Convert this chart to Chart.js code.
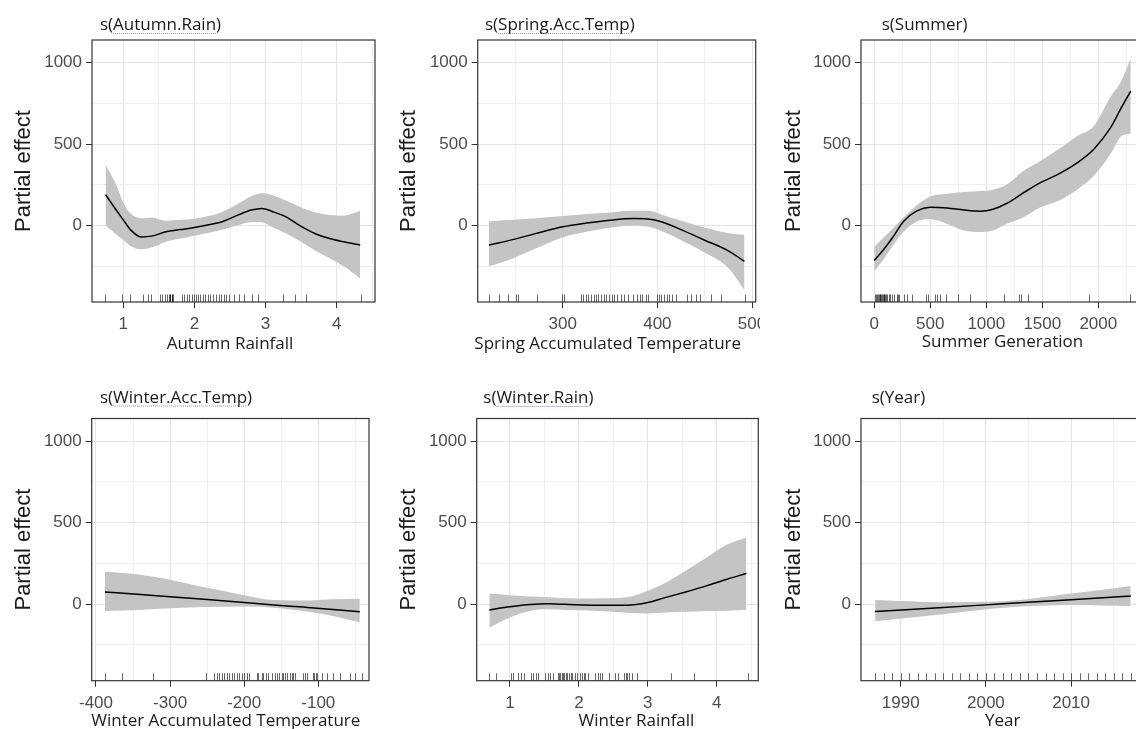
<!DOCTYPE html>
<html><head><meta charset="utf-8">
<script src="https://cdn.jsdelivr.net/npm/chart.js@4.4.1/dist/chart.umd.min.js"></script>
<style>
html,body{margin:0;padding:0;width:1136px;height:729px;overflow:hidden;background:#fff;position:relative;}
canvas{position:absolute;background:#fff;}
</style></head><body>
<canvas id="c1"></canvas><canvas id="c2"></canvas><canvas id="c3"></canvas>
<canvas id="c4"></canvas><canvas id="c5"></canvas><canvas id="c6"></canvas>
<script>
// ---------- DATA ----------
const panelTitles = ['s(Autumn.Rain)','s(Spring.Acc.Temp)','s(Summer)','s(Winter.Acc.Temp)','s(Winter.Rain)','s(Year)'];
const xTitles = ['Autumn Rainfall','Spring Accumulated Temperature','Summer Generation','Winter Accumulated Temperature','Winter Rainfall','Year'];
const yTitle = 'Partial effect';

const yMajor = [0,500,1000];
const yMinor = [-250,250,750];

const autumnX     = [0.75,0.9,1.0,1.1,1.25,1.4,1.6,1.8,2.0,2.2,2.4,2.6,2.8,2.95,3.1,3.3,3.5,3.7,3.9,4.1,4.33];
const autumnFit   = [190,95,35,-25,-70,-65,-38,-25,-12,5,25,62,95,105,85,50,-5,-50,-80,-100,-120];
const autumnUpper = [375,250,140,75,45,50,30,35,42,58,85,130,180,198,185,150,110,80,65,60,90];
const autumnLower = [0,-55,-88,-125,-145,-135,-100,-80,-62,-45,-25,0,22,20,-10,-50,-100,-155,-200,-250,-325];
const autumnRug   = [0.74,0.98,1.10,1.27,1.35,1.39,1.52,1.55,1.58,1.62,1.64,1.65,1.66,1.68,1.69,1.70,1.82,1.85,1.89,1.92,1.96,1.99,2.02,2.05,2.08,2.12,2.15,2.19,2.22,2.26,2.30,2.35,2.38,2.41,2.45,2.49,2.55,2.62,2.69,2.81,2.89,3.24,3.42,3.57,4.34];
const autumnMajor = [1,2,3,4];
const autumnMinor = [1.5,2.5,3.5,4.5];

const springX     = [222,248,272,300,325,350,375,390,405,425,450,475,492];
const springFit   = [-120,-85,-48,-8,15,33,43,40,22,-25,-90,-155,-220];
const springUpper = [25,35,45,58,70,80,90,90,65,30,-12,-47,-57];
const springLower = [-250,-200,-140,-72,-38,-14,0,-8,-35,-90,-165,-260,-395];
const springRug   = [221.8,232.3,242.1,250.9,252.6,273.0,298.9,301.1,319.3,321.8,324.6,327.0,329.8,332.6,335.1,337.5,340.4,343.2,345.6,349.1,351.6,354.4,357.2,361.4,364.9,369.1,374.7,378.9,381.8,384.2,387.7,390.2,399.3,401.8,404.2,407.0,409.8,412.3,415.8,419.3,430.9,435.1,440.4,444.9,456.8,466.7,493.0];
const springMajor = [300,400,500];
const springMinor = [250,350,450];

const summerX     = [0,80,170,260,380,500,650,800,950,1060,1180,1330,1480,1660,1810,1960,2110,2200,2290];
const summerFit   = [-215,-150,-67,25,90,112,107,95,88,100,135,200,262,321,384,468,600,715,825];
const summerUpper = [-130,-75,-15,50,125,178,195,205,212,220,250,335,395,475,548,610,790,880,1025];
const summerLower = [-280,-210,-120,-40,25,38,10,-30,-40,-30,10,50,110,157,220,305,440,545,565];
const summerRug   = [9,15,24,30,39,47,52,59,68,77,83,89,98,105,113,127,136,157,172,202,208,225,261,291,335,463,483,543,563,587,640,750,854,1156,1293,1313,1373,1921,2283];
const summerMajor = [0,500,1000,1500,2000];
const summerMinor = [250,750,1250,1750,2250];

const wtempX     = [-388,-340,-300,-250,-200,-160,-120,-80,-44];
const wtempFit   = [75,60,45,28,10,-5,-18,-32,-47];
const wtempUpper = [200,180,150,100,55,25,22,30,33];
const wtempLower = [-42,-35,-25,-18,-14,-22,-42,-72,-112];
const wtempRug   = [-387.9,-365.4,-322.6,-251.6,-240.8,-237.2,-233.6,-230.4,-227.3,-223.7,-220.1,-216.9,-213.8,-210.2,-206.6,-203.4,-200.3,-196.7,-193.1,-183.2,-180.9,-176.4,-174.2,-170.6,-167.4,-162.9,-158.4,-156.2,-152.6,-149.4,-147.2,-144.9,-142.7,-138.2,-135.9,-133.7,-131.4,-120.2,-117.9,-115.7,-107.6,-105.8,-103.1,-101.3,-95.5,-87.8,-79.7,-70.7,-57.2,-50.5,-41.5];
const wtempMajor = [-400,-300,-200,-100];
const wtempMinor = [-350,-250,-150,-50];

const wrainX     = [0.70,1.0,1.3,1.55,1.8,2.25,2.7,3.0,3.25,3.55,3.85,4.15,4.43];
const wrainFit   = [-35,-16,-2,2,-1,-6,-6,10,40,75,112,153,188];
const wrainUpper = [65,55,47,43,37,35,42,82,130,205,285,365,408];
const wrainLower = [-143,-82,-41,-31,-35,-40,-52,-57,-51,-47,-42,-40,-36];
const wrainRug   = [0.69,0.79,1.01,1.05,1.12,1.16,1.21,1.31,1.34,1.38,1.41,1.51,1.55,1.58,1.62,1.70,1.71,1.73,1.75,1.77,1.79,1.81,1.83,1.85,1.88,1.90,1.94,1.97,2.01,2.04,2.07,2.09,2.13,2.24,2.28,2.31,2.34,2.43,2.53,2.57,2.65,2.68,2.70,2.73,2.77,2.85,3.33,3.67,4.45];
const wrainMajor = [1,2,3,4];
const wrainMinor = [1.5,2.5,3.5,4.5];

const yearX     = [1987,1995,2002,2010,2017];
const yearFit   = [-45,-20,2,27,50];
const yearUpper = [25,12,18,65,112];
const yearLower = [-105,-62,-22,-5,-12];
const yearRug   = [1987,1988,1989,1990,1991,1992,1993,1994,1995,1996,1997,1998,1999,2000,2001,2002,2003,2004,2005,2006,2007,2008,2009,2010,2011,2012,2013,2014,2015,2016,2017];
const yearMajor = [1990,2000,2010];
const yearMinor = [1995,2005,2015];

// ---------- LAYOUT (pixels, styles) ----------
const panels = [
  {id:'c1', x:autumnX, fit:autumnFit, up:autumnUpper, lo:autumnLower, rug:autumnRug, major:autumnMajor, minor:autumnMinor,
   left:0, top:0, w:380, h:364, yW:92, padTop:40, padRight:5, xH:62, xMin:0.56, xMax:4.538, yTitleMid:24.4, tDx:8, tDy:-10, xtDx:-3.5, xtDy:46.5, ul:true},
  {id:'c2', x:springX, fit:springFit, up:springUpper, lo:springLower, rug:springRug, major:springMajor, minor:springMinor,
   left:380, top:0, w:380, h:364, yW:97.7, padTop:40, padRight:4.3, xH:62, xMin:210.1, xMax:503.9, yTitleMid:29.4, tDx:7.3, tDy:-10, xtDx:-9, xtDy:47, ul:true},
  {id:'c3', x:summerX, fit:summerFit, up:summerUpper, lo:summerLower, rug:summerRug, major:summerMajor, minor:summerMinor,
   left:760, top:0, w:400, h:364, yW:101, padTop:40, padRight:15, xH:62, xMin:-118.75, xMax:2417, yTitleMid:34.4, tDx:20.7, tDy:-10, xtDx:-0.5, xtDy:45, ul:false},
  {id:'c4', x:wtempX, fit:wtempFit, up:wtempUpper, lo:wtempLower, rug:wtempRug, major:wtempMajor, minor:wtempMinor,
   left:0, top:364, w:380, h:380, yW:91.7, padTop:54.5, padRight:11, xH:63.3, xMin:-405.8, xMax:-31.6, yTitleMid:24.4, tDx:8.3, tDy:-16, xtDx:-4.6, xtDy:45.3, ul:true},
  {id:'c5', x:wrainX, fit:wrainFit, up:wrainUpper, lo:wrainLower, rug:wrainRug, major:wrainMajor, minor:wrainMinor,
   left:380, top:364, w:380, h:380, yW:96.7, padTop:54.5, padRight:1.7, xH:63.3, xMin:0.517, xMax:4.604, yTitleMid:29.4, tDx:6.6, tDy:-15.5, xtDx:19, xtDy:45.3, ul:true},
  {id:'c6', x:yearX, fit:yearFit, up:yearUpper, lo:yearLower, rug:yearRug, major:yearMajor, minor:yearMinor,
   left:760, top:364, w:400, h:380, yW:101, padTop:54.5, padRight:16.5, xH:63.3, xMin:1985.34, xMax:2018.5, yTitleMid:34.4, tDx:10.7, tDy:-15.5, xtDx:0.5, xtDy:45.3, ul:false}
];

const TICK_FONT = {family:'"Liberation Sans", Arial, sans-serif', size:17};
const TEXT_FAMILY = '"Open Sans", sans-serif';
const RIBBON = 'rgb(196,196,196)';

const decor = {
  id: 'decor',
  afterDatasetsDraw(chart, args, o) {
    const {ctx, chartArea:a} = chart;
    const xs = chart.scales.x;
    ctx.save();
    ctx.beginPath(); ctx.rect(a.left, a.top, a.right - a.left, a.bottom - a.top); ctx.clip();
    ctx.strokeStyle = 'rgba(0,0,0,0.6)'; ctx.lineWidth = 1;
    ctx.beginPath();
    for (const v of o.rug) {
      const px = Math.round(xs.getPixelForValue(v)) + 0.5;
      ctx.moveTo(px, a.bottom); ctx.lineTo(px, a.bottom - 7.5);
    }
    ctx.stroke();
    ctx.restore();
  },
  afterDraw(chart, args, o) {
    const {ctx, chartArea:a} = chart;
    ctx.save();
    ctx.strokeStyle = '#333'; ctx.lineWidth = 1.2;
    ctx.strokeRect(a.left, a.top, a.right - a.left, a.bottom - a.top);
    ctx.fillStyle = '#1a1a1a';
    ctx.font = '17px ' + TEXT_FAMILY;
    ctx.textBaseline = 'alphabetic';
    ctx.textAlign = 'left';
    const tx = a.left + o.tDx, ty = a.top + o.tDy;
    ctx.fillText(o.title, tx, ty);
    if (o.ul) {
      const pre = ctx.measureText('s(').width;
      const w = ctx.measureText(o.title.slice(2, -1)).width;
      ctx.strokeStyle = '#8c8c9c'; ctx.lineWidth = 1; ctx.setLineDash([1, 1]);
      ctx.beginPath(); ctx.moveTo(tx + pre, ty + 3.5); ctx.lineTo(tx + pre + w, ty + 3.5); ctx.stroke();
      ctx.setLineDash([]);
    }
    ctx.textAlign = 'center';
    ctx.fillText(o.xTitle, (a.left + a.right) / 2 + o.xtDx, a.bottom + o.xtDy);
    ctx.restore();
  }
};

function build() {
  panels.forEach((p, i) => {
    const cv = document.getElementById(p.id);
    cv.width = p.w; cv.height = p.h;
    cv.style.left = p.left + 'px'; cv.style.top = p.top + 'px';
    cv.style.width = p.w + 'px'; cv.style.height = p.h + 'px';
    const xMajorSet = new Set(p.major);
    const yMajorSet = new Set(yMajor);
    const xTicks = p.major.concat(p.minor).sort((a, b) => a - b);
    const yTicks = yMajor.concat(yMinor).sort((a, b) => a - b);
    const pts = arr => p.x.map((xv, k) => ({x: xv, y: arr[k]}));
    new Chart(cv, {
      type: 'line',
      data: {
        datasets: [
          {data: pts(p.fit), borderColor: '#000', borderWidth: 1.5, pointRadius: 0, fill: false, cubicInterpolationMode: 'monotone'},
          {data: pts(p.lo), borderWidth: 0, borderColor: 'rgba(0,0,0,0)', pointRadius: 0, fill: false, cubicInterpolationMode: 'monotone'},
          {data: pts(p.up), borderWidth: 0, borderColor: 'rgba(0,0,0,0)', pointRadius: 0, fill: '-1', backgroundColor: RIBBON, cubicInterpolationMode: 'monotone'}
        ]
      },
      options: {
        responsive: false, animation: false, events: [],
        layout: {autoPadding: false, padding: {left: 0, top: p.padTop, right: p.padRight, bottom: 0}},
        plugins: {
          legend: {display: false}, tooltip: {enabled: false},
          decor: {rug: p.rug, title: panelTitles[i], xTitle: xTitles[i], tDx: p.tDx, tDy: p.tDy, xtDx: p.xtDx, xtDy: p.xtDy, ul: p.ul}
        },
        scales: {
          x: {
            type: 'linear', min: p.xMin, max: p.xMax,
            afterBuildTicks: s => { s.ticks = xTicks.map(v => ({value: v})); },
            afterFit: s => { s.height = p.xH; s.paddingLeft = 0; s.paddingRight = 0; },
            border: {display: false},
            grid: {
              color: c => (c.tick && xMajorSet.has(c.tick.value)) ? '#e4e4e4' : '#efefef',
              tickColor: c => (c.tick && xMajorSet.has(c.tick.value)) ? '#333' : 'rgba(0,0,0,0)',
              tickLength: 6, lineWidth: 1
            },
            ticks: {autoSkip: false, maxRotation: 0, minRotation: 0, padding: 6, color: '#4d4d4d', font: TICK_FONT,
              callback: v => xMajorSet.has(v) ? String(v) : ''}
          },
          y: {
            type: 'linear', min: -469, max: 1138,
            afterBuildTicks: s => { s.ticks = yTicks.map(v => ({value: v})); },
            afterFit: s => { s.width = p.yW; s.paddingTop = 0; s.paddingBottom = 0; },
            border: {display: false},
            grid: {
              color: c => (c.tick && yMajorSet.has(c.tick.value)) ? '#e4e4e4' : '#efefef',
              tickColor: c => (c.tick && yMajorSet.has(c.tick.value)) ? '#333' : 'rgba(0,0,0,0)',
              tickLength: 6, lineWidth: 1
            },
            ticks: {autoSkip: false, padding: 4, color: '#4d4d4d', font: TICK_FONT,
              callback: v => yMajorSet.has(v) ? String(v) : ''},
            title: {display: true, text: yTitle, color: '#1a1a1a',
              font: {family: '"Liberation Sans", Arial, sans-serif', size: 22},
              padding: {top: p.yTitleMid - 13.2, bottom: 0}}
          }
        }
      },
      plugins: [decor]
    });
  });
}
Promise.all([
  document.fonts.load('17px "Open Sans"'),
  document.fonts.load('17px "Liberation Sans"')
]).then(build, build);
</script>
</body></html>
